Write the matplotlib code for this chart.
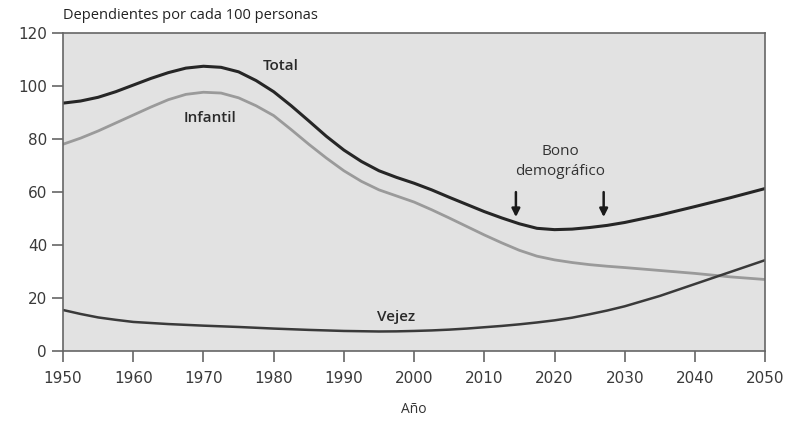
import matplotlib
matplotlib.use("Agg")
import matplotlib.pyplot as plt

plt.rcParams['font.family'] = ['DejaVu Sans']

years = [1950, 1952.5, 1955, 1957.5, 1960, 1962.5, 1965, 1967.5, 1970, 1972.5,
         1975, 1977.5, 1980, 1982.5, 1985, 1987.5, 1990, 1992.5, 1995, 1997.5,
         2000, 2002.5, 2005, 2007.5, 2010, 2012.5, 2015, 2017.5, 2020, 2022.5,
         2025, 2027.5, 2030, 2035, 2040, 2045, 2050]
total = [93.5, 94.3, 95.7, 97.8, 100.3, 102.8, 105, 106.7, 107.4, 107,
         105.3, 102, 97.8, 92.5, 86.8, 81, 75.8, 71.5, 68, 65.5,
         63.3, 60.8, 58, 55.3, 52.6, 50.2, 48, 46.3, 45.8, 46,
         46.6, 47.4, 48.5, 51.3, 54.5, 57.8, 61.3]
infantil = [78, 80.3, 83, 86, 89, 92, 94.8, 96.8, 97.6, 97.3,
            95.5, 92.5, 88.8, 83.5, 78, 72.8, 68, 64, 60.8, 58.5,
            56.2, 53.3, 50.2, 47, 43.8, 40.8, 38, 35.8, 34.4, 33.4,
            32.6, 32, 31.5, 30.4, 29.3, 28, 27]
vejez = [15.5, 14, 12.7, 11.8, 11, 10.6, 10.2, 9.9, 9.6, 9.35,
         9.1, 8.8, 8.5, 8.25, 8, 7.8, 7.6, 7.5, 7.4, 7.45,
         7.6, 7.8, 8.1, 8.5, 9, 9.5, 10.1, 10.8, 11.6, 12.6,
         13.9, 15.3, 16.9, 20.8, 25.3, 29.8, 34.3]

xticks = list(range(1950, 2051, 10))
yticks = list(range(0, 121, 20))

fig = plt.figure(figsize=(7.88, 4.21), dpi=100)
ax = fig.add_axes([0.080, 0.166, 0.891, 0.756])
ax.set_facecolor('#e2e2e2')

kw = dict(solid_joinstyle='round', solid_capstyle='round')
ax.plot(years, total, color='#262626', lw=2.2, **kw)
ax.plot(years, infantil, color='#9a9a9a', lw=2.0, **kw)
ax.plot(years, vejez, color='#3a3a3a', lw=1.8, **kw)

ax.set_xlim(1950, 2050)
ax.set_ylim(0, 120)
ax.set_xticks(xticks)
ax.set_yticks(yticks)
ax.tick_params(direction='out', length=8, width=1.2, color='#666666',
               labelsize=11, labelcolor='#3a3a3a')
ax.tick_params(axis='x', pad=6)
for s in ax.spines.values():
    s.set_color('#666666')
    s.set_linewidth(1.2)

lab = dict(fontsize=11, color='#2a2a2a', ha='center', va='center',
           family=['Open Sans', 'DejaVu Sans'], fontweight='semibold')
ax.text(1981, 107.5, 'Total', **lab)
ax.text(1971, 88, 'Infantil', **lab)
ax.text(1997.5, 13, 'Vejez', **lab)
ax.text(2020.8, 71.5, 'Bono\ndemográfico', fontsize=11, color='#333333',
        ha='center', va='center', linespacing=1.45,
        family=['Open Sans', 'DejaVu Sans'])
for xa in [2014.5, 2027]:
    ax.annotate('', xy=(xa, 49.5), xytext=(xa, 61),
                arrowprops=dict(arrowstyle='-|>', color='#1a1a1a', lw=1.8,
                                mutation_scale=12))

fig.text(0.080, 0.962, 'Dependientes por cada 100 personas', fontsize=10.5,
         color='#222222', ha='left', va='center',
         family=['Open Sans', 'DejaVu Sans'])
ax.set_xlabel('Año', fontsize=10, color='#333333', labelpad=12,
              family=['Open Sans', 'DejaVu Sans'])

fig.savefig('out.png', dpi=100)
